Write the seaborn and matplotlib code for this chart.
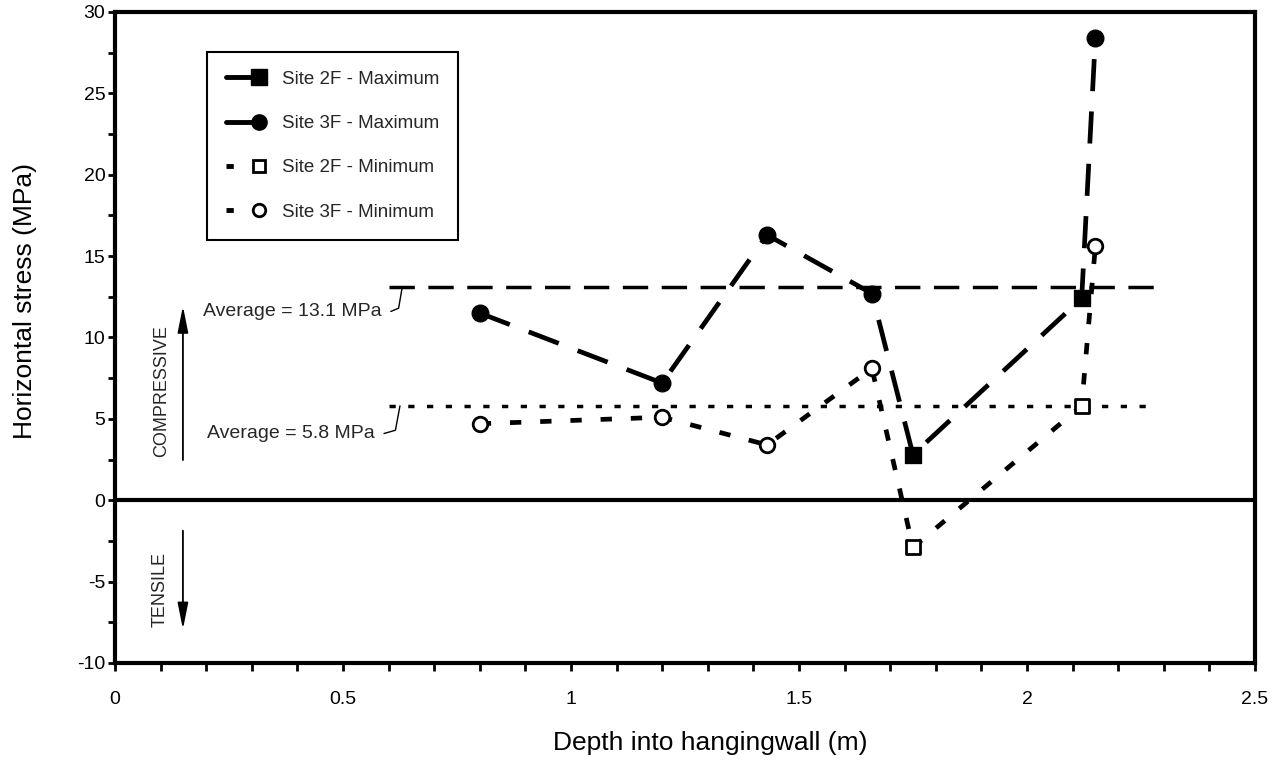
import numpy as np
import pandas as pd
import matplotlib.pyplot as plt
import seaborn as sns
from matplotlib.lines import Line2D
from matplotlib.legend_handler import HandlerLine2D

# 図から読み取った値
depth_2f_max = [1.75, 2.12]
stress_2f_max = [2.8, 12.4]
depth_3f_max = [0.80, 1.20, 1.43, 1.66, 2.15]
stress_3f_max = [11.5, 7.2, 16.3, 12.7, 28.4]
depth_2f_min = [1.75, 2.12]
stress_2f_min = [-2.9, 5.8]
depth_3f_min = [0.80, 1.20, 1.43, 1.66, 2.15]
stress_3f_min = [4.7, 5.1, 3.4, 8.1, 15.6]

avg_max = 13.1
avg_min = 5.8
avg_max_span = [0.6, 2.3]
avg_min_span = [0.6, 2.28]

x_ticks = [0, 0.5, 1, 1.5, 2, 2.5]
x_ticklabels = ['0', '0.5', '1', '1.5', '2', '2.5']
y_ticks = [-10, -5, 0, 5, 10, 15, 20, 25, 30]
y_ticklabels = ['-10', '-5', '0', '5', '10', '15', '20', '25', '30']

# 最大値・最小値はそれぞれ深さ順に1本の線で結ばれている
df_max = pd.DataFrame({'depth': depth_2f_max + depth_3f_max,
                       'stress': stress_2f_max + stress_3f_max}).sort_values('depth')
df_min = pd.DataFrame({'depth': depth_2f_min + depth_3f_min,
                       'stress': stress_2f_min + stress_3f_min}).sort_values('depth')

sns.set_style('ticks')
plt.rcParams['font.family'] = ['Liberation Sans', 'DejaVu Sans']
plt.rcParams['axes.unicode_minus'] = False

fig = plt.figure(figsize=(12.79, 7.67), dpi=100)
ax = fig.add_axes([0.0899, 0.1356, 0.8913, 0.8488])

# データの線
sns.lineplot(data=df_max, x='depth', y='stress', ax=ax, color='black', lw=3.4,
             estimator=None, sort=True)
ax.lines[-1].set_dashes((6.8, 4.3))
sns.lineplot(data=df_min, x='depth', y='stress', ax=ax, color='black', lw=3.4,
             estimator=None, sort=True)
ax.lines[-1].set_dashes((2.4, 4.0))

# 平均線
ax.plot(avg_max_span, [avg_max, avg_max], color='black', lw=2.5, dashes=(7.3, 3.9))
ax.plot(avg_min_span, [avg_min, avg_min], color='black', lw=2.5, dashes=(1.8, 3.6))
ax.axhline(0, color='black', lw=3)

# マーカー
sns.scatterplot(x=depth_2f_max, y=stress_2f_max, ax=ax, marker='s', s=144,
                color='black', edgecolor='black', zorder=5)
sns.scatterplot(x=depth_3f_max, y=stress_3f_max, ax=ax, marker='o', s=144,
                color='black', edgecolor='black', zorder=5)
sns.scatterplot(x=depth_2f_min, y=stress_2f_min, ax=ax, marker='s', s=110,
                facecolor='white', edgecolor='black', linewidth=2, zorder=5)
sns.scatterplot(x=depth_3f_min, y=stress_3f_min, ax=ax, marker='o', s=110,
                facecolor='white', edgecolor='black', linewidth=2, zorder=5)

# 平均値の注記
ax.text(0.585, 11.6, 'Average = 13.1 MPa', ha='right', va='center', fontsize=14)
ax.plot([0.605, 0.622, 0.630], [11.6, 11.8, 13.1], color='black', lw=1)
ax.text(0.57, 4.1, 'Average = 5.8 MPa', ha='right', va='center', fontsize=14)
ax.plot([0.59, 0.615, 0.625], [4.1, 4.3, 5.8], color='black', lw=1)

# 圧縮・引張の矢印
arrow = dict(arrowstyle='-|>,head_length=0.8,head_width=0.16', color='black',
             lw=1.3, mutation_scale=20)
ax.annotate('', xy=(0.149, 12.1), xytext=(0.149, 2.3), arrowprops=arrow)
ax.annotate('', xy=(0.149, -8.1), xytext=(0.149, -1.7), arrowprops=arrow)
ax.text(0.103, 6.7, 'COMPRESSIVE', rotation=90, ha='center', va='center', fontsize=13)
ax.text(0.099, -5.5, 'TENSILE', rotation=90, ha='center', va='center', fontsize=13)

# 凡例（マーカーを線の右端に置く）
class MarkerAtEnd(HandlerLine2D):
    def create_artists(self, legend, orig_handle, xdescent, ydescent, width, height,
                       fontsize, trans):
        artists = super().create_artists(legend, orig_handle, xdescent, ydescent,
                                         width, height, fontsize, trans)
        artists[0].set_markevery([2])
        return artists

handles = [
    Line2D([], [], color='black', lw=3.5, marker='s', ms=11, label='Site 2F - Maximum'),
    Line2D([], [], color='black', lw=3.5, marker='o', ms=11, label='Site 3F - Maximum'),
    Line2D([], [], color='black', lw=3.5, dashes=(1.5, 12), marker='s', ms=9,
           mfc='white', mec='black', mew=2, label='Site 2F - Minimum'),
    Line2D([], [], color='black', lw=3.5, dashes=(1.5, 12), marker='o', ms=9,
           mfc='white', mec='black', mew=2, label='Site 3F - Minimum'),
]
leg = ax.legend(handles=handles, loc='upper left', bbox_to_anchor=(0.0807, 0.9386),
                borderaxespad=0, fontsize=13.5, numpoints=1, handlelength=1.8,
                handletextpad=1.2, labelspacing=1.45, borderpad=1.0,
                fancybox=False, framealpha=1, edgecolor='black',
                handler_map={Line2D: MarkerAtEnd()})
leg.get_frame().set_linewidth(1.5)

# 軸
ax.set_xlim(0, 2.5)
ax.set_ylim(-10, 30)
ax.set_xticks(x_ticks)
ax.set_xticklabels(x_ticklabels)
ax.set_xticks(np.arange(0, 2.51, 0.1), minor=True)
ax.set_yticks(y_ticks)
ax.set_yticklabels(y_ticklabels)
ax.set_yticks(np.arange(-10, 30.1, 2.5), minor=True)
ax.tick_params(axis='both', which='both', direction='out', color='black', width=2,
               labelsize=14, labelcolor='black')
ax.tick_params(axis='x', which='both', length=6, pad=14)
ax.tick_params(axis='y', which='both', length=5, pad=2)
for side in ['left', 'right', 'top', 'bottom']:
    ax.spines[side].set_visible(True)
    ax.spines[side].set_linewidth(3)
    ax.spines[side].set_color('black')

ax.set_xlabel('Depth into hangingwall (m)', fontsize=19, color='black')
ax.xaxis.set_label_coords(0.522, -0.105)
ax.set_ylabel('Horizontal stress (MPa)', fontsize=19, color='black')
ax.yaxis.set_label_coords(-0.068, 0.556)

fig.savefig('out.png', dpi=100)
